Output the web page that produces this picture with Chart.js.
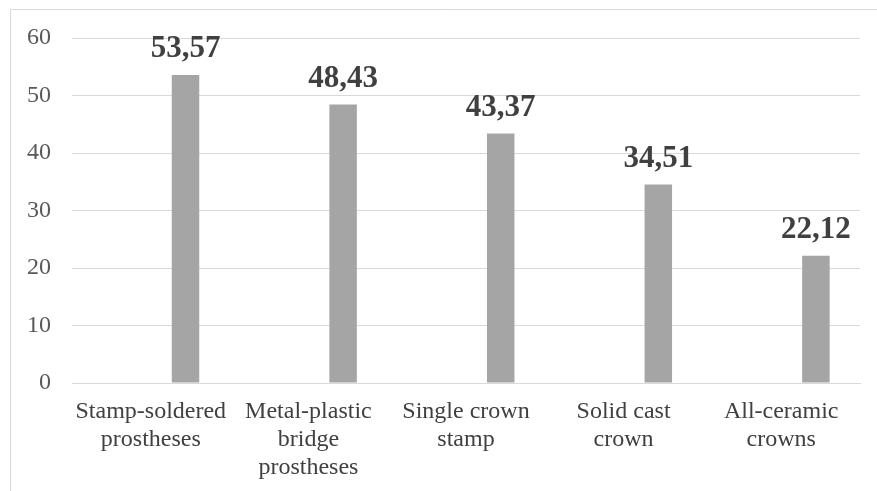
<!DOCTYPE html>
<html>
<head>
<meta charset="utf-8">
<script src="https://cdn.jsdelivr.net/npm/chart.js@4.4.1/dist/chart.umd.min.js"></script>
<style>
  html, body { margin: 0; padding: 0; background: #ffffff; }
  #wrap { position: relative; width: 877px; height: 491px; }
</style>
</head>
<body>
<div id="wrap"><canvas id="chart" width="877" height="491"></canvas></div>
<script>
// Prosthesis types and their values
const categories = [
  ['Stamp-soldered', 'prostheses'],
  ['Metal-plastic', 'bridge', 'prostheses'],
  ['Single crown', 'stamp'],
  ['Solid cast', 'crown'],
  ['All-ceramic', 'crowns']
];
const values = [53.57, 48.43, 43.37, 34.51, 22.12];
// Empty companion series: reserves the left slot of each category group
const emptySeries = [null, null, null, null, null];
const yTicks = [0, 10, 20, 30, 40, 50, 60];

const serif = '"Liberation Serif", "Times New Roman", serif';

// Light frame around the whole chart
const framePlugin = {
  id: 'frame',
  beforeDraw(chart) {
    const ctx = chart.ctx;
    ctx.save();
    ctx.strokeStyle = '#d9d9d9';
    ctx.lineWidth = 1;
    ctx.beginPath();
    ctx.moveTo(10.5, chart.height);
    ctx.lineTo(10.5, 9.5);
    ctx.lineTo(chart.width, 9.5);
    ctx.stroke();
    ctx.restore();
  }
};

// Value labels above each bar, written with a decimal comma
const valueLabelPlugin = {
  id: 'valueLabels',
  afterDatasetsDraw(chart) {
    const ctx = chart.ctx;
    const meta = chart.getDatasetMeta(1);
    ctx.save();
    ctx.font = 'bold 31px ' + serif;
    ctx.fillStyle = '#404040';
    ctx.textAlign = 'center';
    ctx.textBaseline = 'alphabetic';
    meta.data.forEach((bar, i) => {
      const text = values[i].toFixed(2).replace('.', ',');
      ctx.fillText(text, bar.x, bar.y - 18);
    });
    ctx.restore();
  }
};

new Chart(document.getElementById('chart'), {
  type: 'bar',
  data: {
    labels: categories,
    datasets: [
      { label: 'Reserved', data: emptySeries, backgroundColor: '#a5a5a5' },
      { label: 'Value', data: values, backgroundColor: '#a5a5a5' }
    ]
  },
  options: {
    responsive: false,
    animation: false,
    categoryPercentage: 0.881,
    barPercentage: 0.396,
    layout: { padding: { top: 38, right: 17, bottom: 0, left: 0 } },
    plugins: {
      legend: { display: false },
      tooltip: { enabled: false }
    },
    scales: {
      x: {
        grid: { display: false, drawTicks: false },
        border: { display: true, color: '#d9d9d9', width: 1 },
        ticks: {
          color: '#404040',
          font: { family: serif, size: 24, lineHeight: 1.17 },
          padding: 15,
          maxRotation: 0,
          autoSkip: false
        },
        afterFit(scale) { scale.height = 108; }
      },
      y: {
        min: 0,
        max: 60,
        afterBuildTicks(scale) { scale.ticks = yTicks.map(v => ({ value: v })); },
        grid: { color: '#d9d9d9', lineWidth: 1, drawTicks: false },
        border: { display: false },
        ticks: {
          color: '#595959',
          font: { family: serif, size: 24 },
          padding: 21
        },
        afterFit(scale) { scale.width = 72; }
      }
    }
  },
  plugins: [framePlugin, valueLabelPlugin]
});
</script>
</body>
</html>
